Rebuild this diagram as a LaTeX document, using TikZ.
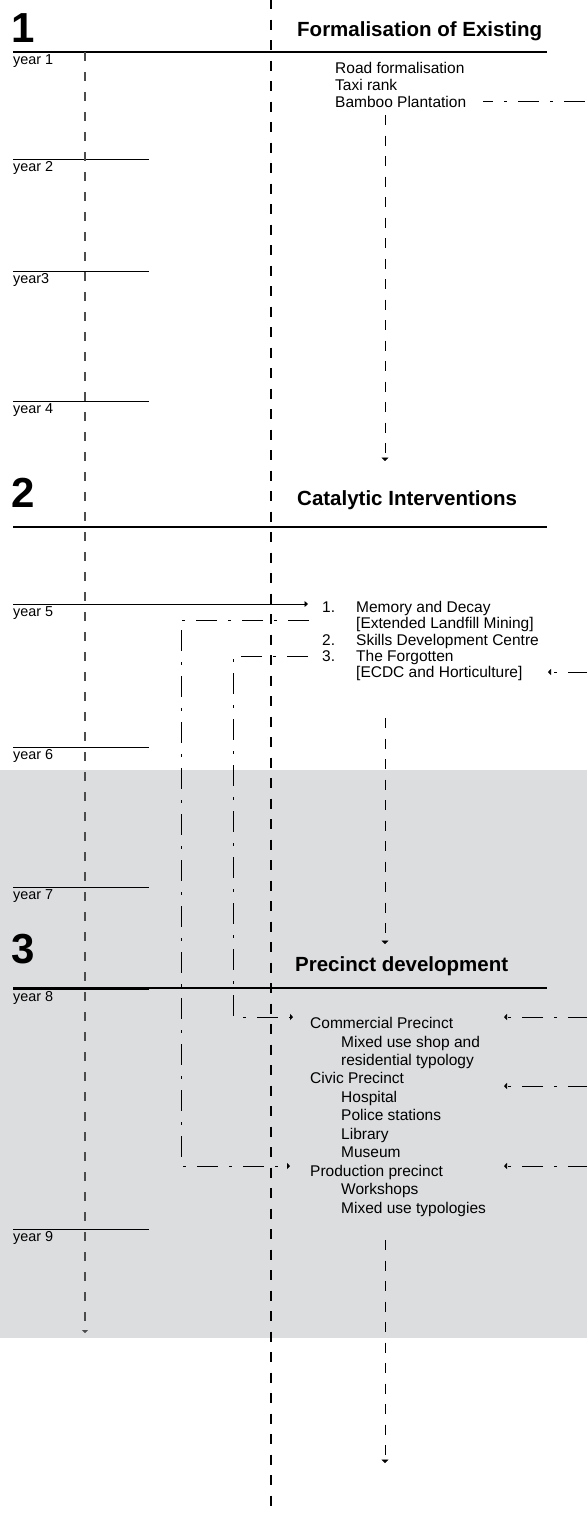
\documentclass[tikz,border=0pt]{standalone}
\usepackage{fontspec}
\setmainfont{Liberation Sans}
\usetikzlibrary{arrows.meta}
\definecolor{band}{RGB}{220,221,223}
\begin{document}
\begin{tikzpicture}[x=1pt,y=-1pt,
  body/.style={anchor=base west,inner sep=0pt,font=\fontsize{15.5}{18}\selectfont},
  yearlbl/.style={anchor=base west,inner sep=0pt,font=\fontsize{14.4}{17}\selectfont},
  head/.style={anchor=base west,inner sep=0pt,font=\fontsize{20.5}{24}\selectfont\bfseries},
  bignum/.style={anchor=base west,inner sep=0pt,font=\fontsize{42}{48}\selectfont\bfseries},
  hline/.style={line width=2.5pt},
  yline/.style={line width=0.9pt},
  divider/.style={line width=2.3pt,dash pattern=on 10pt off 10.5pt,dash phase=1pt},
  flow/.style={line width=0.8pt,dash pattern=on 10pt off 10.5pt,-{Triangle[width=7pt,length=3.5pt]}},
  timeline/.style={line width=1.1pt,draw=black!70,dash pattern=on 9pt off 11pt,-{Triangle[width=6pt,length=3pt]}},
  link/.style={line width=0.8pt,dash pattern=on 21pt off 11pt on 3pt off 11pt,-{Triangle[width=6pt,length=3pt]}},
  linkr/.style={line width=0.8pt,dash pattern=on 21pt off 11pt on 3pt off 11pt,dash phase=2pt,-{Triangle[width=6pt,length=3pt]}},
]
\useasboundingbox (0,0) rectangle (587,1515);
\fill[white] (0,0) rectangle (587,1515);
\fill[band] (0,770) rectangle (587,1338);

% divider
\coordinate (dtop) at (271,0);
\coordinate (dbot) at (271,1515);
\draw[divider] (dtop) -- (dbot);

% headers
\node[bignum] (n1) at (11,42) {1};
\node[head] (h1) at (297,36) {Formalisation of Existing};
\draw[hline] (13,52) -- (547,52);
\node[bignum] (n2) at (11,507) {2};
\node[head] (h2) at (297,505) {Catalytic Interventions};
\draw[hline] (13,527) -- (547,527);
\node[bignum] (n3) at (11,963) {3};
\node[head] (h3) at (295,971) {Precinct development};
\draw[hline] (13,988) -- (547,988);

% year lines and labels
\foreach \yy/\lab in {52/year 1,159/year 2,271/year3,401/year 4,604/year 5,747/year 6,887/year 7,989/year 8,1229/year 9}{
  \node[yearlbl] at (13,\yy+12) {\lab};
}
\foreach \yy in {159,271,401,747,887,989,1229}{
  \draw[yline] (13,\yy) -- (149,\yy);
}
\coordinate (y5a) at (13,604);
\coordinate (y5b) at (308,604);
\draw[yline,-{Triangle[width=6pt,length=3.5pt]}] (y5a) -- (y5b);

% timeline
\coordinate (tla) at (85,52);
\coordinate (tlb) at (85,1333);
\draw[timeline] (tla) -- (tlb);

% block 1
\node[body] (b1a) at (335,73) {Road formalisation};
\node[body] (b1b) at (335,90) {Taxi rank};
\node[body] (b1c) at (335,107) {Bamboo Plantation};
\coordinate (bamA) at (483,101);
\coordinate (bamB) at (587,101);
\draw[line width=0.8pt,dash pattern=on 21pt off 11pt on 3pt off 11pt,dash phase=11pt] (bamA) -- (bamB);
\coordinate (f1a) at (385,115);
\coordinate (f1b) at (385,461);
\draw[flow] (f1a) -- (f1b);

% block 2
\node[body] (k1) at (322,612) {1.};
\node[body] (i1) at (356,612) {Memory and Decay};
\node[body] (i1b) at (356,628) {[Extended Landfill Mining]};
\node[body] (k2) at (322,645) {2.};
\node[body] (i2) at (356,645) {Skills Development Centre};
\node[body] (k3) at (322,661) {3.};
\node[body] (i3) at (356,661) {The Forgotten};
\node[body] (i3b) at (356,677) {[ECDC and Horticulture]};
\coordinate (ecA) at (587,672);
\coordinate (ecB) at (548,672);
\draw[linkr] (ecA) -- (ecB);
\coordinate (f2a) at (385,718);
\coordinate (f2b) at (385,944);
\draw[flow] (f2a) -- (f2b);

% block 3
\node[body] (c1) at (310,1028) {Commercial Precinct};
\node[body] (c1a) at (341,1047) {Mixed use shop and};
\node[body] (c1b) at (341,1065) {residential typology};
\node[body] (c2) at (310,1083) {Civic Precinct};
\node[body] (c2a) at (341,1102) {Hospital};
\node[body] (c2b) at (341,1120) {Police stations};
\node[body] (c2c) at (341,1139) {Library};
\node[body] (c2d) at (341,1157) {Museum};
\node[body] (c3) at (310,1176) {Production precinct};
\node[body] (c3a) at (341,1194) {Workshops};
\node[body] (c3b) at (341,1213) {Mixed use typologies};
\coordinate (f3a) at (385,1240);
\coordinate (f3b) at (385,1463);
\draw[flow] (f3a) -- (f3b);

% links from block 2 to block 3
\coordinate (memO) at (309,620);
\coordinate (memI) at (290,1166);
\draw[link] (memO) -- (181,620) -- (181,1166) -- (memI);
\coordinate (forO) at (308,656);
\coordinate (forI) at (293,1017);
\draw[link] (forO) -- (233,656) -- (233,1017) -- (forI);

% incoming from right
\coordinate (rcA) at (587,1017);
\coordinate (rcB) at (504,1017);
\draw[linkr] (rcA) -- (rcB);
\coordinate (rvA) at (587,1086);
\coordinate (rvB) at (504,1086);
\draw[linkr] (rvA) -- (rvB);
\coordinate (rpA) at (587,1166);
\coordinate (rpB) at (504,1166);
\draw[linkr] (rpA) -- (rpB);
\end{tikzpicture}
\end{document}
